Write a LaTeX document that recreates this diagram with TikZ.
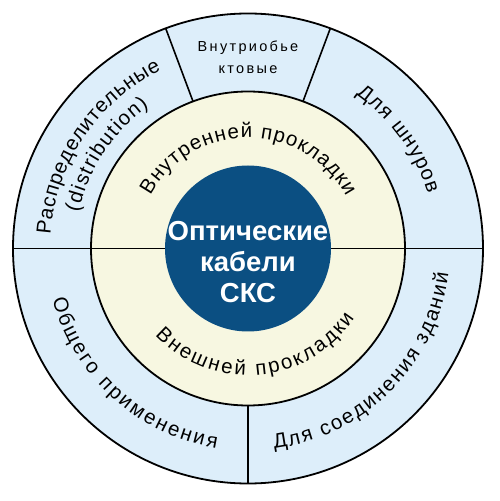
\documentclass[tikz,border=0pt]{standalone}
\usepackage{fontspec}
\setmainfont{Liberation Sans}
\newfontfamily\topfont[LetterSpace=16]{Liberation Sans}
\usetikzlibrary{decorations.text,calc}
\definecolor{outerblue}{HTML}{DDEEFA}
\definecolor{cream}{HTML}{F7F7E1}
\definecolor{coreblue}{HTML}{0B4F82}
\begin{document}
\begin{tikzpicture}[x=1pt,y=1pt,
  ringline/.style={draw=black, line width=1.8pt},
  divider/.style={draw=black, line width=1.6pt},
  ringtext/.style={decorate, decoration={text along path,
     text format delimiters={|}{|},
     text={|\fontsize{20.5pt}{20.5pt}\selectfont|#1},
     text align={fit to path}}},
  toptext/.style={font=\topfont\fontsize{14.5pt}{22pt}\selectfont, align=center, inner sep=0pt},
  coretext/.style={font=\bfseries\fontsize{27.5pt}{31pt}\selectfont, text=white, align=center, inner sep=0pt}
]
\useasboundingbox (0,0) rectangle (500,501);
\coordinate (c) at (248,252.5);
% rings
\fill[outerblue] (c) circle[radius=235];
\fill[cream] (c) circle[radius=157];
% dividers
\draw[divider] ($(c)+(180:235)$) -- ($(c)+(180:83)$);
\draw[divider] ($(c)+(0:83)$) -- ($(c)+(0:235)$);
\draw[divider] ($(c)+(69.5:157)$) -- ($(c)+(69.5:235)$);
\draw[divider] ($(c)+(110.5:157)$) -- ($(c)+(110.5:235)$);
\draw[divider] ($(c)+(270:157)$) -- ($(c)+(270:235)$);
\draw[ringline] (c) circle[radius=235];
\draw[ringline] (c) circle[radius=157];
\fill[coreblue] (c) circle[radius=83];
% core text
\node[coretext] (core) at (248,239) {Оптические\\кабели\\СКС};
% top segment
\node[toptext] (top) at (248,444) {Внутриобье\\ктовые};
% curved labels
\path[ringtext={Внутренней прокладки}] ($(c)+(151.5:111)$) arc[start angle=151.5, end angle=28, radius=111];
\path[ringtext={Внешней прокладки}] ($(c)+(223:127)$) arc[start angle=223, end angle=327, radius=127];
\path[ringtext={Для шнуров}] ($(c)+(55:188)$) arc[start angle=55, end angle=17, radius=188];
\path[ringtext={Распределительные}] ($(c)+(176:198)$) arc[start angle=176, end angle=116, radius=198];
\path[ringtext={(distribution)}] ($(c)+(168:173)$) arc[start angle=168, end angle=125, radius=173];
\path[ringtext={Общего применения}] ($(c)+(194.5:202)$) arc[start angle=194.5, end angle=261, radius=202];
\path[ringtext={Для соединения зданий}] ($(c)+(277.5:202)$) arc[start angle=277.5, end angle=353, radius=202];
\end{tikzpicture}
\end{document}
